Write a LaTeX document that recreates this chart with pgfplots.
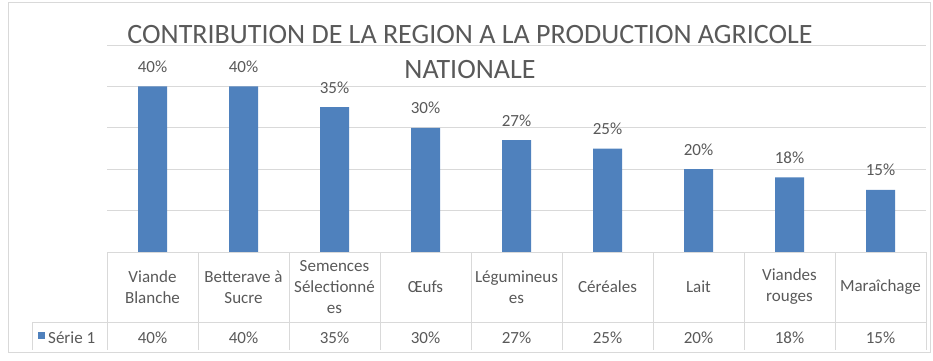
\documentclass[border=0pt]{standalone}
\usepackage{pgfplots}
\pgfplotsset{compat=1.18}
\usepackage{fontspec}
\setmainfont{Carlito}
\definecolor{barblue}{HTML}{4F81BD}
\definecolor{gridgray}{HTML}{D9D9D9}
\definecolor{textgray}{HTML}{595959}
\begin{document}
\begin{tikzpicture}
\useasboundingbox (0pt,0pt) rectangle (933pt,360pt);
\draw[gridgray, line width=1pt] (8pt,8pt) rectangle (930pt,358pt);
\begin{axis}[
  at={(107pt,108pt)}, anchor=south west,
  scale only axis, width=819pt, height=207pt,
  xmin=-0.5, xmax=8.5, ymin=0, ymax=50,
  /pgf/number format/assume math mode=true,
  axis line style={draw=none},
  tick style={draw=none},
  ytick={0,10,20,30,40,50}, yticklabels={},
  ymajorgrids, grid style={gridgray, line width=1pt},
  xtick={0,...,8},
  xticklabels={{Viande\\Blanche},{Betterave à\\Sucre},{Semences\\Sélectionné\\es},{Œufs},{Légumineus\\es},{Céréales},{Lait},{Viandes\\rouges},{Maraîchage}},
  xticklabel style={font=\fontsize{17}{21}\selectfont, text=textgray, align=center, anchor=center, yshift=-35pt},
  clip=false,
]
\addplot[ybar, bar width=29pt, fill=barblue, draw=none,
  nodes near coords={\pgfmathprintnumber[assume math mode=true]{\pgfplotspointmeta}\%},
  nodes near coords style={font=\fontsize{17}{20}\selectfont, text=textgray, anchor=base, yshift=14pt}]
  coordinates {(0,40) (1,40) (2,35) (3,30) (4,27) (5,25) (6,20) (7,18) (8,15)};
\end{axis}
% data table lines
\foreach \k in {0,...,9} {
  \draw[gridgray, line width=1pt] ({107pt+91pt*\k},108pt) -- ({107pt+91pt*\k},10pt);
}
\draw[gridgray, line width=1pt] (32pt,38pt) -- (926pt,38pt);
\draw[gridgray, line width=1pt] (32pt,38pt) -- (32pt,10pt);
\draw[gridgray, line width=1pt] (107pt,108pt) -- (926pt,108pt);
% legend key
\fill[barblue] (38pt,21pt) rectangle (45pt,28pt);
\node[anchor=base west, inner sep=0pt, font=\fontsize{17}{20}\selectfont, text=textgray] at (48pt,17pt) {Série 1};
\foreach \v [count=\i from 0] in {40,40,35,30,27,25,20,18,15} {
  \node[anchor=base, inner sep=0pt, font=\fontsize{17}{20}\selectfont, text=textgray] at ({152.5pt+91pt*\i},17pt) {\v\%};
}
% title
\node[anchor=base, inner sep=0pt, font=\fontsize{28}{34}\selectfont, text=textgray] at (470pt,317pt) {CONTRIBUTION DE LA REGION A LA PRODUCTION AGRICOLE};
\node[anchor=base, inner sep=0pt, font=\fontsize{28}{34}\selectfont, text=textgray] at (470pt,282pt) {NATIONALE};
\end{tikzpicture}
\end{document}
